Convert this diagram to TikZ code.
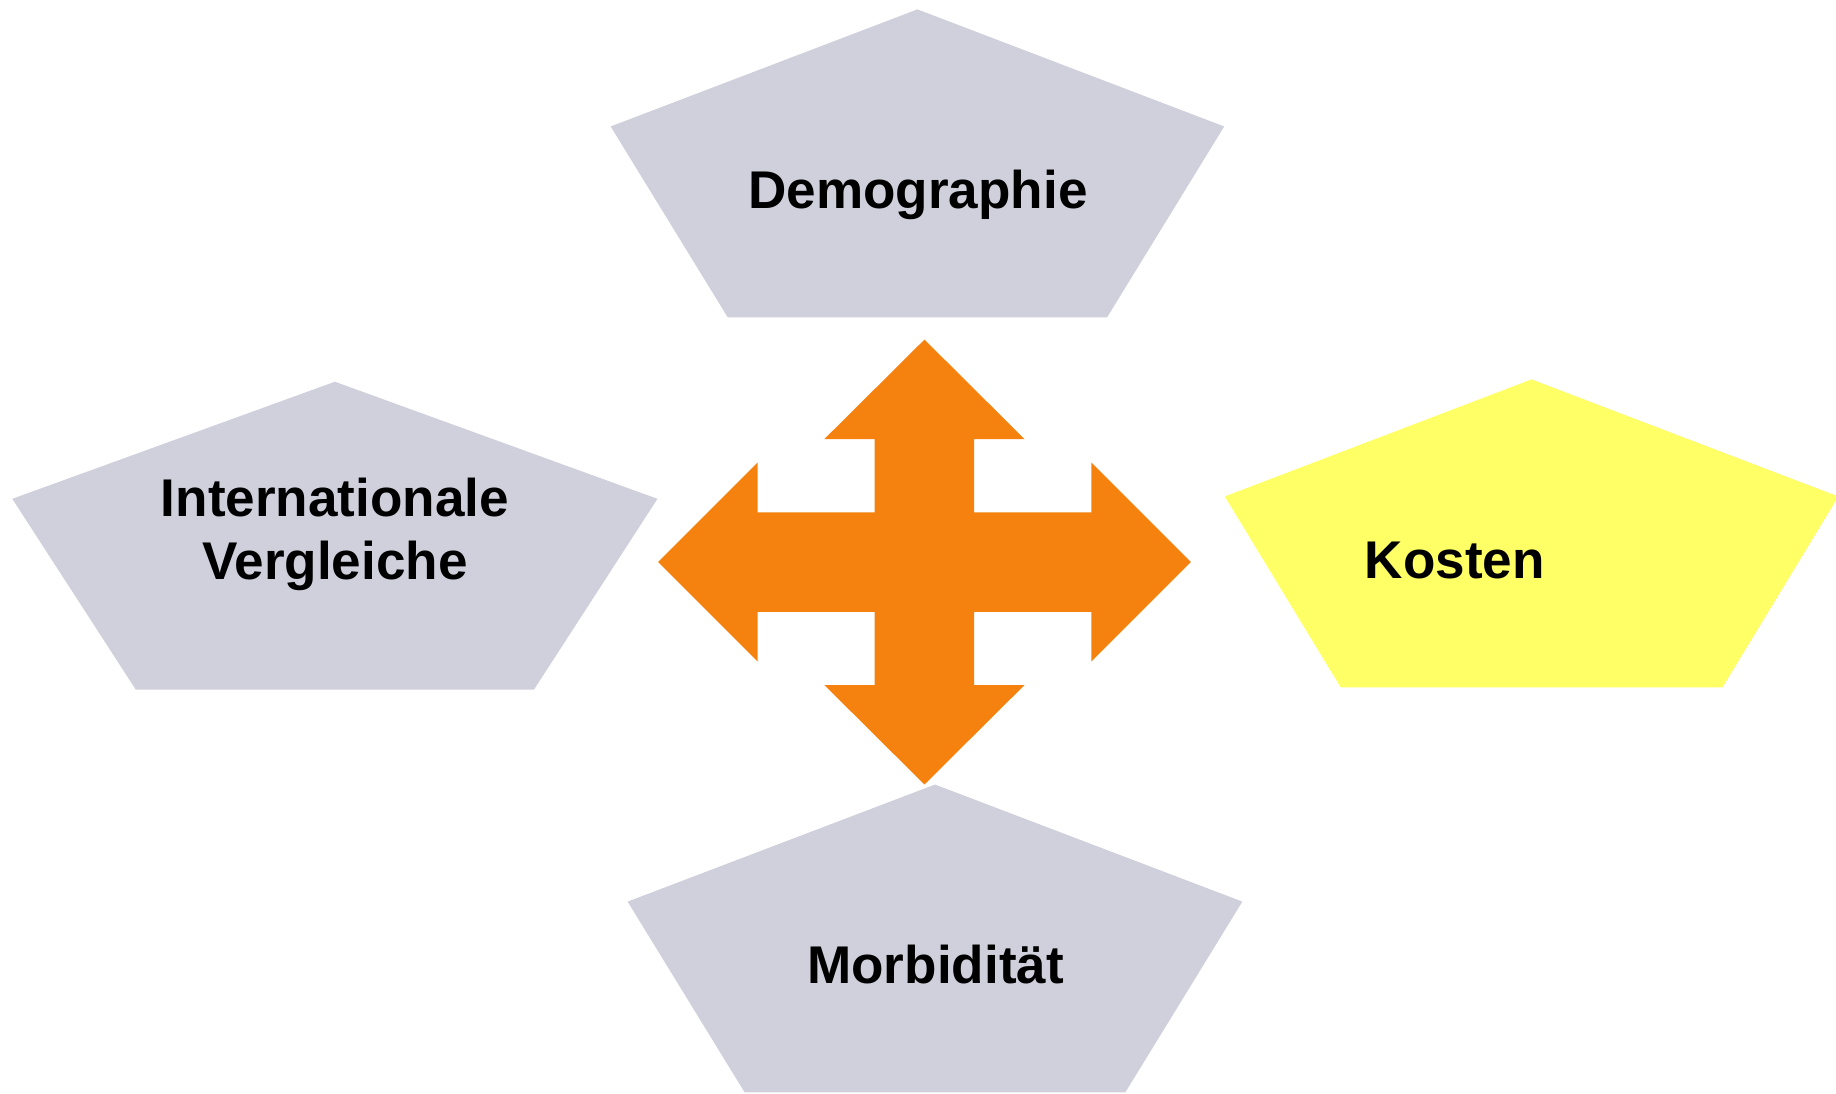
\documentclass[tikz,border=0pt]{standalone}
\usepackage{fontspec}
\setmainfont{Liberation Sans}
\usepackage{tikz}
\usetikzlibrary{positioning}
\definecolor{pentagrey}{RGB}{208,208,220}
\definecolor{pentayellow}{RGB}{255,255,102}
\definecolor{crossorange}{RGB}{245,130,14}
\tikzset{
	font={\fontsize{12.9}{15.6}\bfseries\selectfont}}
\tikzstyle{label_text} = [inner sep=0, align=center, text=black]
\tikzstyle{penta_grey} = [fill=pentagrey]
\tikzstyle{penta_yellow} = [fill=pentayellow]
\tikzstyle{cross} = [fill=crossorange]
% pentagon: style, top x, top y, half width, bottom half width
\newcommand{\pentashape}[5]{%
	\fill[#1] (#2,#3) -- ++(#4,-1.00) -- ({#2+#5},{#3-2.63}) -- ({#2-#5},{#3-2.63}) -- ({#2-#4},{#3-1.00}) -- cycle;}

\begin{document}
\begin{tikzpicture}
\useasboundingbox (0,0) rectangle (15.68,9.34);

\pentashape{penta_grey}{7.835}{9.26}{2.62}{1.62}
\pentashape{penta_grey}{2.86}{6.08}{2.755}{1.70}
\pentashape{penta_yellow}{13.08}{6.10}{2.62}{1.63}
\pentashape{penta_grey}{7.985}{2.64}{2.625}{1.625}

% Pfeilkreuz
\begin{scope}[shift={(7.895,4.54)}]
\fill[cross] (0,1.9) -- (0.855,1.05) -- (0.425,1.05) -- (0.425,0.425) -- (1.425,0.425) -- (1.425,0.85)
	-- (2.275,0) -- (1.425,-0.85) -- (1.425,-0.425) -- (0.425,-0.425) -- (0.425,-1.05) -- (0.855,-1.05)
	-- (0,-1.9) -- (-0.855,-1.05) -- (-0.425,-1.05) -- (-0.425,-0.425) -- (-1.425,-0.425) -- (-1.425,-0.85)
	-- (-2.275,0) -- (-1.425,0.85) -- (-1.425,0.425) -- (-0.425,0.425) -- (-0.425,1.05) -- (-0.855,1.05) -- cycle;
\end{scope}

\node[label_text, anchor=base] (demographie) at (7.84,7.56) {Demographie};
\node[label_text, anchor=base] (internationale) at (2.86,4.93) {Internationale};
\node[label_text, anchor=base] (vergleiche) at ([yshift=-0.54cm]internationale.base) {Vergleiche};
\node[label_text, anchor=base west] (kosten) at (11.65,4.40) {Kosten};
\node[label_text, anchor=base] (morbiditaet) at (7.99,0.94) {Morbidität};

\end{tikzpicture}
\end{document}
